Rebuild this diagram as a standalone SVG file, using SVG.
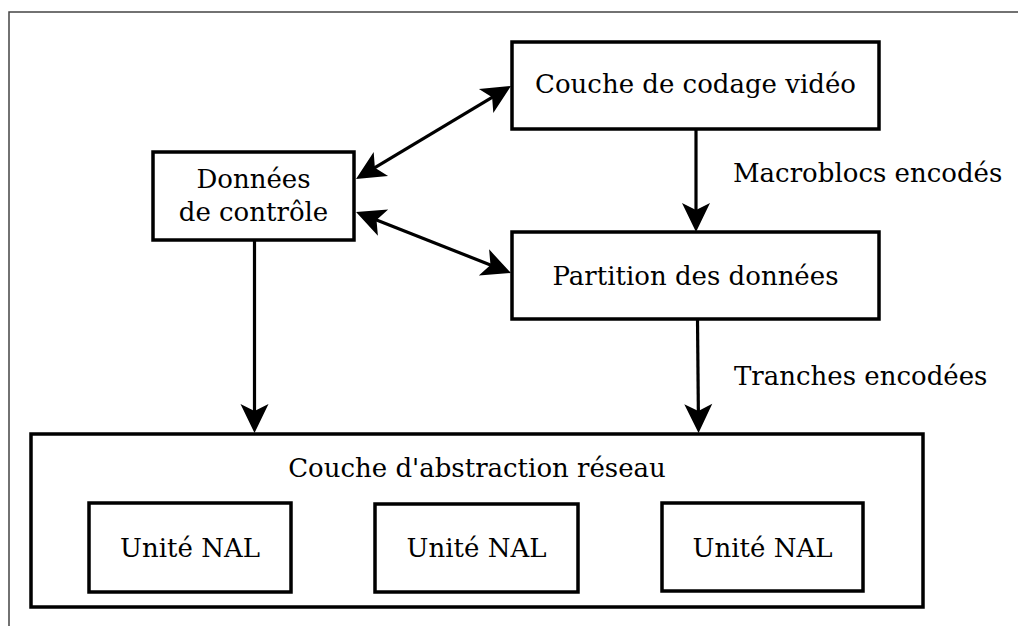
<svg xmlns="http://www.w3.org/2000/svg" width="1018" height="626" viewBox="0 0 1018 626">
  <defs>
    <style>
      .box { fill: #fff; stroke: #000; stroke-width: 3.5; }
      .lbl { font-family: "DejaVu Serif", serif; font-size: 26px; fill: #000; text-anchor: middle; }
      .lbl-l { font-family: "DejaVu Serif", serif; font-size: 26px; fill: #000; text-anchor: start; }
      .conn { fill: none; stroke: #000; stroke-width: 3.2; }
    </style>
    <marker id="arr" markerUnits="userSpaceOnUse" markerWidth="40" markerHeight="40" viewBox="-30 -20 40 40" refX="0" refY="0" orient="auto-start-reverse">
      <path d="M5,0 L-24,-14 L-17,0 L-24,14 Z" fill="#000"/>
    </marker>
  </defs>
  <rect width="1018" height="626" fill="#fff"/>
  <path d="M9,626 V12 H1018" fill="none" stroke="#444" stroke-width="1.5"/>

  <g id="vcl">
    <rect class="box" x="512" y="42" width="367" height="87"/>
    <text class="lbl" x="695.5" y="93">Couche de codage vidéo</text>
  </g>
  <g id="partition">
    <rect class="box" x="512" y="232" width="367" height="87"/>
    <text class="lbl" x="695.5" y="285">Partition des données</text>
  </g>
  <g id="controle">
    <rect class="box" x="153" y="152" width="201" height="88"/>
    <text class="lbl" x="253.5" y="188">Données</text>
    <text class="lbl" x="253.5" y="221">de contrôle</text>
  </g>
  <g id="nal-layer">
    <rect class="box" x="31" y="434" width="892" height="173"/>
    <text class="lbl" x="477" y="477">Couche d'abstraction réseau</text>
  </g>
  <g id="nal1">
    <rect class="box" x="89" y="503" width="202" height="89"/>
    <text class="lbl" x="190" y="557">Unité NAL</text>
  </g>
  <g id="nal2">
    <rect class="box" x="375" y="504" width="203" height="88"/>
    <text class="lbl" x="476.5" y="557">Unité NAL</text>
  </g>
  <g id="nal3">
    <rect class="box" x="662" y="503" width="201" height="88"/>
    <text class="lbl" x="762.5" y="557">Unité NAL</text>
  </g>

  <g id="connectors">
    <path class="conn" d="M360.3,176.4 L506.7,88.6" marker-start="url(#arr)" marker-end="url(#arr)"/>
    <path class="conn" d="M360.7,213.8 L506.3,271.2" marker-start="url(#arr)" marker-end="url(#arr)"/>
    <path class="conn" d="M696,129 V227" marker-end="url(#arr)"/>
    <path class="conn" d="M697.5,319 L698.5,428" marker-end="url(#arr)"/>
    <path class="conn" d="M254.5,240 V428" marker-end="url(#arr)"/>
    <text class="lbl-l" x="733" y="182">Macroblocs encodés</text>
    <text class="lbl-l" x="734" y="385">Tranches encodées</text>
  </g>
</svg>
